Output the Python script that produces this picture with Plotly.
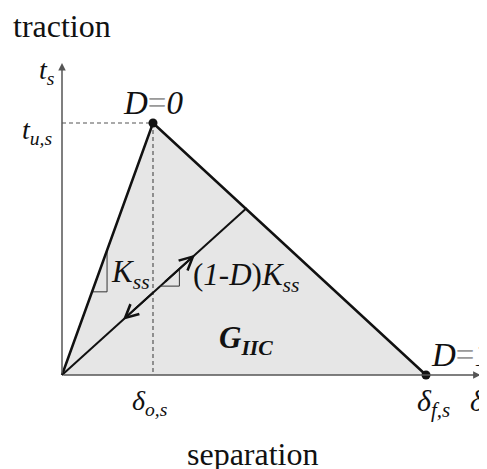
"""
Ley cohesiva bilineal (modo II): traccion vs separacion.
"""
import plotly.graph_objects as go

# ── Datos ──────────────────────────────────────────────────────────────────
sep_pts = [0.0, 1.0, 4.0]          # 0, delta_o,s, delta_f,s
trac_pts = [0.0, 1.0, 0.0]         # 0, t_u,s, 0
unload_sep = [0.0, 2.03]           # descarga hasta un punto de daño
unload_trac = [0.0, 0.663]
x_tick_labels = ["<i>δ</i><sub><i>o,s</i></sub>", "<i>δ</i><sub><i>f,s</i></sub>"]
y_tick_labels = ["<i>t</i><sub><i>u,s</i></sub>"]
x_axis_end = 4.6
y_axis_end = 1.238

FONT = "Liberation Serif"
INK = "#111111"
AXIS = "#555555"

# La página tiene 8 px de margen en el body: la figura empieza en (8, 8)
W, H, OFF = 487, 469, 8
PX_X, PX_Y = 91, 252               # px por unidad
X0, Y0 = 62, 375                   # origen en la ventana

fig = go.Figure()

# ── Área sombreada (G_IIC) ───────────────────────────────────────────────
fig.add_trace(go.Scatter(
    x=sep_pts + [sep_pts[0]], y=trac_pts + [trac_pts[0]],
    mode="lines", fill="toself", fillcolor="#e6e6e6",
    line=dict(width=0), hoverinfo="skip", showlegend=False,
))

# ── Líneas punteadas de referencia ────────────────────────────────────────
fig.add_trace(go.Scatter(
    x=[0, sep_pts[1], sep_pts[1]], y=[trac_pts[1], trac_pts[1], 0],
    mode="lines", line=dict(color=AXIS, width=1.2, dash="4px,3px"),
    hoverinfo="skip", showlegend=False,
))

# ── Descarga ──────────────────────────────────────────────────────────────
fig.add_trace(go.Scatter(
    x=unload_sep, y=unload_trac, mode="lines",
    line=dict(color=INK, width=2), hoverinfo="skip", showlegend=False,
))

# ── Triángulos de pendiente ───────────────────────────────────────────────
k0 = trac_pts[1] / sep_pts[1]
k1 = unload_trac[1] / unload_sep[1]
for xa, xb, k in [(0.33, 0.495, k0), (1.08, 1.29, k1)]:
    fig.add_trace(go.Scatter(
        x=[xa, xb, xb], y=[k * xa, k * xa, k * xb], mode="lines",
        line=dict(color="#333333", width=1), hoverinfo="skip", showlegend=False,
    ))

# ── Ley bilineal ──────────────────────────────────────────────────────────
fig.add_trace(go.Scatter(
    x=sep_pts, y=trac_pts, mode="lines",
    line=dict(color=INK, width=2.5), hoverinfo="skip", showlegend=False,
))
fig.add_trace(go.Scatter(
    x=sep_pts[1:], y=trac_pts[1:], mode="markers",
    marker=dict(color=INK, size=9), hoverinfo="skip", showlegend=False,
))

ann = []
# ejes con flecha
for hx, hy in [(0, y_axis_end), (x_axis_end, 0)]:
    ann.append(dict(x=hx, y=hy, ax=0, ay=0, xref="x", yref="y", axref="x", ayref="y",
                    showarrow=True, arrowhead=2, arrowsize=1, arrowwidth=1.5,
                    arrowcolor=AXIS, text=""))
# flechas sobre la descarga
for f_head, f_tail in [(0.72, 0.55), (0.33, 0.5)]:
    ann.append(dict(x=unload_sep[1] * f_head, y=unload_trac[1] * f_head,
                    ax=unload_sep[1] * f_tail, ay=unload_trac[1] * f_tail,
                    xref="x", yref="y", axref="x", ayref="y", showarrow=True,
                    arrowhead=5, arrowsize=1.3, arrowwidth=2, arrowcolor=INK, text=""))


def label(text, x, y, size=28, xshift=0, yshift=0, xanchor="center"):
    ann.append(dict(x=x, y=y, xref="x", yref="y", text=text, showarrow=False,
                    xshift=xshift, yshift=yshift, xanchor=xanchor, yanchor="middle",
                    font=dict(family=FONT, size=size, color=INK)))


eq = "<span style='color:#9a9a9a'>=</span>"
label("traction", 0, y_axis_end, size=32, yshift=37)
label("separation", 2.1, 0, size=32, yshift=-79)
label("<i>t</i><sub><i>s</i></sub>", 0, y_axis_end, xshift=-15, yshift=-8)
label(y_tick_labels[0], 0, trac_pts[1], xshift=-25, yshift=-8)
label(x_tick_labels[0], sep_pts[1], 0, xshift=-3, yshift=-27)
label(x_tick_labels[1], sep_pts[2], 0, xshift=7, yshift=-28, size=30)
label("<i>δ</i><sub><i>s</i></sub>", x_axis_end, 0, xshift=0, yshift=-28, size=30)
label("<i>D</i>" + eq + "<i>0</i>", sep_pts[1], trac_pts[1], yshift=20, size=33)
label("<i>D</i>" + eq + "<i>1</i>", sep_pts[2], trac_pts[2], xshift=3, yshift=20,
      xanchor="left", size=33)
label("<i>K</i><sub><i>ss</i></sub>", 0.75, 0.4, size=31)
label("(<i>1-D</i>)<i>K</i><sub><i>ss</i></sub>", 2.02, 0.39, size=31)
label("<b><i>G</i></b><sub><b><i>IIC</i></b></sub>", 2.02, 0.14, size=31)

fig.update_layout(
    width=W - OFF, height=H - OFF,
    margin=dict(l=0, r=0, t=0, b=0),
    paper_bgcolor="white", plot_bgcolor="white",
    xaxis=dict(range=[(OFF - X0) / PX_X, (W - X0) / PX_X], visible=False, fixedrange=True),
    yaxis=dict(range=[(Y0 - H) / PX_Y, (Y0 - OFF) / PX_Y], visible=False, fixedrange=True),
    annotations=ann,
    showlegend=False,
)

fig.write_html("out.html")
